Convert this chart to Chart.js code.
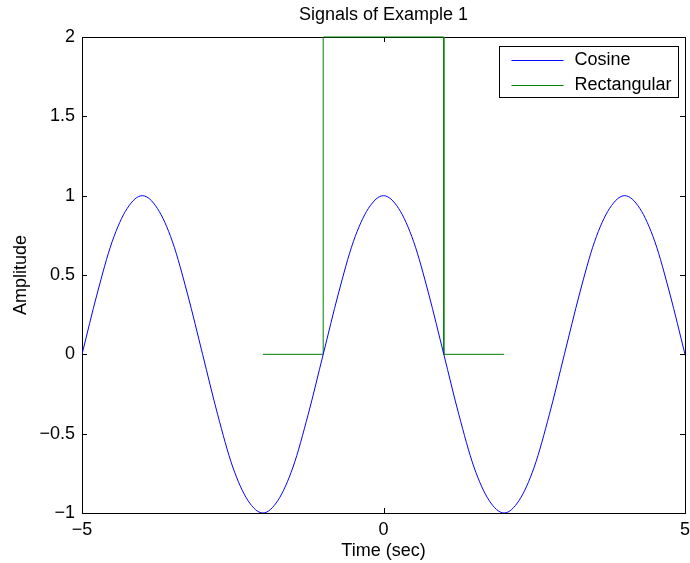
<!DOCTYPE html>
<html>
<head>
<meta charset="utf-8">
<script src="https://cdn.jsdelivr.net/npm/chart.js@4"></script>
<style>
  body { margin: 0; background: #fff; }
  canvas { display: block; }
</style>
</head>
<body>
<canvas id="chart" width="690" height="563"></canvas>
<script>
// cosine, every 0.25 s
const cosTime = [-5, -4.75, -4.5, -4.25, -4, -3.75, -3.5, -3.25, -3, -2.75, -2.5, -2.25, -2,
  -1.75, -1.5, -1.25, -1, -0.75, -0.5, -0.25, 0, 0.25, 0.5, 0.75, 1, 1.25, 1.5, 1.75, 2,
  2.25, 2.5, 2.75, 3, 3.25, 3.5, 3.75, 4, 4.25, 4.5, 4.75, 5];
const cosValues = [0, 0.38, 0.71, 0.92, 1, 0.92, 0.71, 0.38, 0, -0.38, -0.71, -0.92, -1,
  -0.92, -0.71, -0.38, 0, 0.38, 0.71, 0.92, 1, 0.92, 0.71, 0.38, 0, -0.38, -0.71, -0.92, -1,
  -0.92, -0.71, -0.38, 0, 0.38, 0.71, 0.92, 1, 0.92, 0.71, 0.38, 0];

// rectangular pulse corners
const rectTime = [-2, -1, -1, 1, 1, 2];
const rectValues = [0, 0, 2, 2, 0, 0];

const yTicks = [-1, -0.5, 0, 0.5, 1, 1.5, 2];
const xTicks = [-5, 0, 5];

const chartTitle = "Signals of Example 1";
const FONT = "'Liberation Sans', Arial, Helvetica, sans-serif";
const minus = (v) => String(v).replace("-", "\u2212");

const toPoints = (xs, ys) => xs.map((x, i) => ({ x: x, y: ys[i] }));

// box + inward ticks on all four sides (under the lines), title, legend in the corner
const matlabFrame = {
  id: "matlabFrame",
  beforeDatasetsDraw(chart) {
    const ctx = chart.ctx;
    const a = chart.chartArea;
    const xs = chart.scales.x;
    const ys = chart.scales.y;
    ctx.save();
    ctx.strokeStyle = "#000";
    ctx.lineWidth = 1;
    ctx.beginPath();
    xTicks.forEach((t) => {
      const px = Math.round(xs.getPixelForValue(t)) + 0.5;
      ctx.moveTo(px, a.bottom); ctx.lineTo(px, a.bottom - 5);
      ctx.moveTo(px, a.top); ctx.lineTo(px, a.top + 5);
    });
    yTicks.forEach((t) => {
      const py = Math.round(ys.getPixelForValue(t)) + 0.5;
      ctx.moveTo(a.left, py); ctx.lineTo(a.left + 5, py);
      ctx.moveTo(a.right, py); ctx.lineTo(a.right - 5, py);
    });
    ctx.stroke();
    ctx.strokeRect(Math.round(a.left) + 0.5, Math.round(a.top) + 0.5,
      Math.round(a.right - a.left), Math.round(a.bottom - a.top));

    ctx.fillStyle = "#000";
    ctx.font = "18px " + FONT;
    ctx.textAlign = "center";
    ctx.textBaseline = "middle";
    ctx.fillText(chartTitle, (a.left + a.right) / 2, 15);
    ctx.restore();
  },
  afterDraw(chart) {
    const ctx = chart.ctx;
    const a = chart.chartArea;
    const w = 179, h = 51;
    const lx = Math.round(a.right) - 7 - w + 0.5;
    const ly = Math.round(a.top) + 9 + 0.5;
    ctx.save();
    ctx.lineWidth = 1;
    ctx.fillStyle = "#fff";
    ctx.fillRect(lx, ly, w, h);
    ctx.strokeStyle = "#000";
    ctx.strokeRect(lx, ly, w, h);
    ctx.font = "18px " + FONT;
    ctx.textBaseline = "middle";
    chart.data.datasets.forEach((ds, i) => {
      const ry = ly + 13 + i * 25;
      ctx.strokeStyle = ds.borderColor;
      ctx.beginPath();
      ctx.moveTo(lx + 12, Math.round(ry) + 0.5);
      ctx.lineTo(lx + 64, Math.round(ry) + 0.5);
      ctx.stroke();
      ctx.fillStyle = "#000";
      ctx.fillText(ds.label, lx + 75, ry + 1);
    });
    ctx.restore();
  },
};

new Chart(document.getElementById("chart").getContext("2d"), {
  type: "scatter",
  data: {
    datasets: [
      {
        label: "Cosine",
        data: toPoints(cosTime, cosValues),
        showLine: true,
        borderColor: "#0000ff",
        borderWidth: 1,
        pointRadius: 0,
        cubicInterpolationMode: "monotone",
      },
      {
        label: "Rectangular",
        data: toPoints(rectTime, rectValues),
        showLine: true,
        borderColor: "#008000",
        borderWidth: 1,
        pointRadius: 0,
        tension: 0,
        clip: 2,
      },
    ],
  },
  options: {
    responsive: false,
    animation: false,
    layout: { padding: { top: 37, right: 5, bottom: 0, left: 0 } },
    plugins: {
      legend: { display: false },
      tooltip: { enabled: false },
      title: { display: false },
    },
    scales: {
      x: {
        type: "linear",
        min: -5,
        max: 5,
        afterFit: (s) => { s.height = 50; s.paddingLeft = 0; s.paddingRight = 0; },
        afterBuildTicks: (s) => { s.ticks = xTicks.map((v) => ({ value: v })); },
        grid: { display: false, drawTicks: false },
        border: { display: false },
        ticks: {
          color: "#000",
          padding: 6,
          maxRotation: 0,
          font: { family: FONT, size: 18 },
          callback: (v) => minus(v),
        },
        title: {
          display: true,
          text: "Time (sec)",
          color: "#000",
          font: { family: FONT, size: 18 },
          padding: { top: 0, bottom: 1 },
        },
      },
      y: {
        min: -1,
        max: 2,
        afterFit: (s) => { s.width = 82; s.paddingTop = 0; s.paddingBottom = 0; },
        afterBuildTicks: (s) => { s.ticks = yTicks.map((v) => ({ value: v })); },
        grid: { display: false, drawTicks: false },
        border: { display: false },
        ticks: {
          color: "#000",
          padding: 7,
          font: { family: FONT, size: 18 },
          callback: (v) => minus(v),
        },
        title: {
          display: true,
          text: "Amplitude",
          color: "#000",
          font: { family: FONT, size: 18 },
          padding: { top: 10, bottom: 0 },
        },
      },
    },
  },
  plugins: [matlabFrame],
});
</script>
</body>
</html>
